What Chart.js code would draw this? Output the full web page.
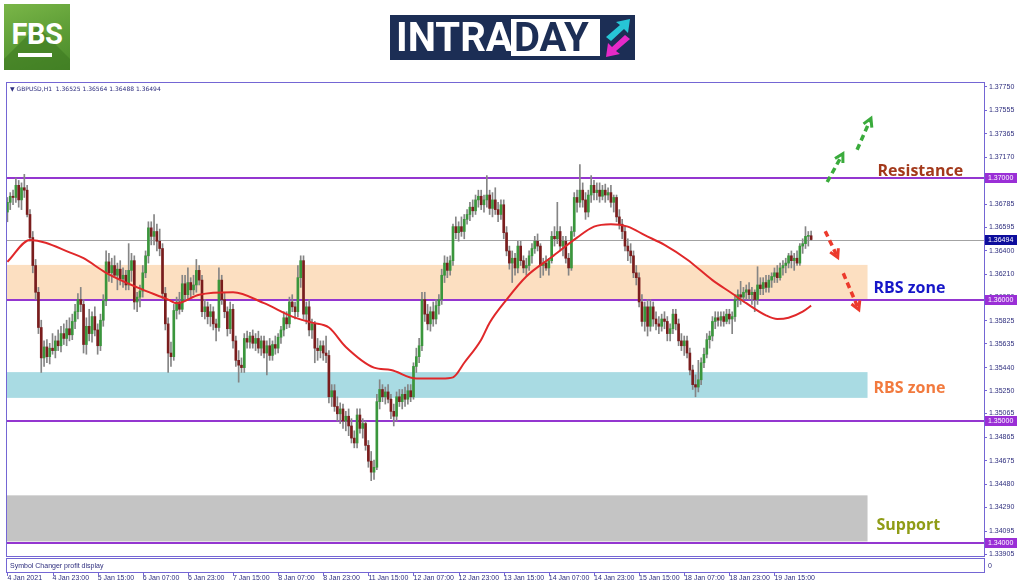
<!DOCTYPE html>
<html>
<head>
<meta charset="utf-8">
<script src="https://cdn.jsdelivr.net/npm/chart.js@4.4.1/dist/chart.umd.min.js"></script>
<style>
html,body{margin:0;padding:0;background:#fff;width:1024px;height:587px;overflow:hidden;}
#wrap{position:relative;width:1024px;height:587px;}
#c{position:absolute;left:0;top:0;}
.fbs{position:absolute;left:4px;top:4px;width:66px;height:66px;background:linear-gradient(160deg,#7ab648 0%,#5a9a34 60%,#4a8a2a 100%);overflow:hidden;}
.fbs .sh{position:absolute;left:33px;top:22px;width:90px;height:90px;background:#3d7a22;transform:rotate(45deg);transform-origin:0 0;opacity:.6;}
.fbs .t{position:absolute;left:0;top:13px;width:66px;text-align:center;color:#fff;font:700 29px "Liberation Sans Narrow","Roboto",sans-serif;letter-spacing:-0.5px;}
.fbs .u{position:absolute;left:14px;top:49px;width:34px;height:4px;background:#fff;}
.intra{position:absolute;left:390px;top:15px;width:245px;height:45px;background:#1c2e55;}
.intra .a{position:absolute;left:6px;top:2px;color:#fff;font:700 40px/41px "Liberation Sans Narrow","Roboto",sans-serif;letter-spacing:0px;}
.intra .d{position:absolute;left:121px;top:4px;width:89px;height:37px;background:#fff;}
.intra .d span{position:absolute;left:3px;top:-2px;color:#1c2e55;font:700 40px/41px "Liberation Sans Narrow","Roboto",sans-serif;}
.intra svg{position:absolute;left:212px;top:2px;}
</style>
</head>
<body>
<div id="wrap">
<canvas id="c" width="1024" height="587"></canvas>
<div class="fbs"><div class="sh"></div><div class="t">FBS</div><div class="u"></div></div>
<div class="intra"><div class="a">INTRA</div><div class="d"><span>DAY</span></div>
<svg width="32" height="42" viewBox="0 0 32 42">
<polygon points="4,20 18,8 14,5 28,2 26,16 22,12 9,24" fill="#27c6d6"/>
<polygon points="28,22 14,34 18,37 4,40 6,26 10,30 23,18" fill="#e52ac8"/>
</svg></div>
</div>
<script>
// ---------- DATA ----------
const symbolName = 'GBPUSD,H1';
const xLabels = ['4 Jan 2021','4 Jan 23:00','5 Jan 15:00','6 Jan 07:00','6 Jan 23:00','7 Jan 15:00','8 Jan 07:00','8 Jan 23:00','11 Jan 15:00','12 Jan 07:00','12 Jan 23:00','13 Jan 15:00','14 Jan 07:00','14 Jan 23:00','15 Jan 15:00','18 Jan 07:00','18 Jan 23:00','19 Jan 15:00'];
const xTickBars = [0,16,32,48,64,80,96,112,128,144,160,176,192,208,224,240,256,272];
const yTicks = [1.37750,1.37555,1.37365,1.37170,1.36980,1.36785,1.36595,1.36400,1.36210,1.36020,1.35825,1.35635,1.35440,1.35250,1.35065,1.34865,1.34675,1.34480,1.34290,1.34095,1.33905];

const opens = [
1.3672,1.3680,1.3685,1.3684,1.3694,1.3682,1.3692,1.3690,1.3670,1.3651,
1.3628,1.3606,1.3577,1.3552,1.3561,1.3553,1.3560,1.3558,1.3566,1.3562,
1.3572,1.3568,1.3576,1.3571,1.3582,1.3590,1.3600,1.3596,1.3563,1.3578,
1.3572,1.3586,1.3575,1.3562,1.3583,1.3599,1.3631,1.3622,1.3628,1.3620,
1.3625,1.3617,1.3620,1.3612,1.3624,1.3632,1.3598,1.3602,1.3607,1.3622,
1.3636,1.3659,1.3652,1.3656,1.3648,1.3642,1.3605,1.3580,1.3556,1.3553,
1.3591,1.3598,1.3592,1.3613,1.3604,1.3614,1.3608,1.3612,1.3624,1.3616,
1.3590,1.3594,1.3586,1.3590,1.3580,1.3577,1.3616,1.3600,1.3590,1.3576,
1.3592,1.3566,1.3550,1.3546,1.3544,1.3568,1.3565,1.3570,1.3564,1.3568,
1.3560,1.3566,1.3556,1.3562,1.3554,1.3563,1.3560,1.3569,1.3575,1.3585,
1.3580,1.3598,1.3594,1.3590,1.3618,1.3632,1.3588,1.3594,1.3575,1.3580,
1.3560,1.3558,1.3562,1.3556,1.3554,1.3520,1.3525,1.3512,1.3506,1.3510,
1.3500,1.3504,1.3496,1.3486,1.3482,1.3505,1.3494,1.3498,1.3480,1.3467,
1.3458,1.3462,1.3516,1.3526,1.3520,1.3524,1.3518,1.3508,1.3504,1.3520,
1.3516,1.3522,1.3518,1.3525,1.3520,1.3545,1.3553,1.3562,1.3600,1.3588,
1.3580,1.3590,1.3584,1.3595,1.3600,1.3620,1.3630,1.3624,1.3632,1.3660,
1.3655,1.3660,1.3656,1.3666,1.3670,1.3676,1.3673,1.3682,1.3685,1.3678,
1.3682,1.3686,1.3675,1.3682,1.3674,1.3670,1.3678,1.3655,1.3640,1.3630,
1.3634,1.3626,1.3644,1.3632,1.3626,1.3628,1.3636,1.3642,1.3648,1.3644,
1.3628,1.3630,1.3626,1.3632,1.3652,1.3650,1.3656,1.3644,1.3648,1.3634,
1.3626,1.3656,1.3684,1.3680,1.3690,1.3682,1.3672,1.3686,1.3694,1.3688,
1.3690,1.3685,1.3690,1.3686,1.3688,1.3680,1.3684,1.3668,1.3662,1.3656,
1.3644,1.3640,1.3636,1.3622,1.3618,1.3598,1.3582,1.3594,1.3578,1.3594,
1.3584,1.3580,1.3578,1.3584,1.3582,1.3572,1.3576,1.3588,1.3580,1.3566,
1.3562,1.3566,1.3556,1.3542,1.3530,1.3528,1.3534,1.3548,1.3555,1.3567,
1.3570,1.3582,1.3585,1.3583,1.3586,1.3582,1.3588,1.3584,1.3586,1.3600,
1.3604,1.3602,1.3606,1.3608,1.3604,1.3606,1.3600,1.3612,1.3609,1.3614,
1.3610,1.3616,1.3619,1.3622,1.3618,1.3626,1.3628,1.3630,1.3636,1.3632,
1.3634,1.3630,1.3644,1.3646,1.3652,1.36525];

const highs = [
1.3684,1.3688,1.3690,1.3700,1.3698,1.3696,1.3703,1.3694,1.3674,1.3656,
1.3633,1.3610,1.3583,1.3566,1.3567,1.3564,1.3572,1.3570,1.3575,1.3578,
1.3580,1.3583,1.3585,1.3588,1.3596,1.3605,1.3610,1.3600,1.3585,1.3592,
1.3590,1.3594,1.3580,1.3588,1.3604,1.3640,1.3638,1.3634,1.3636,1.3630,
1.3632,1.3626,1.3624,1.3646,1.3638,1.3636,1.3606,1.3612,1.3628,1.3640,
1.3664,1.3664,1.3670,1.3662,1.3658,1.3646,1.3610,1.3585,1.3565,1.3596,
1.3602,1.3606,1.3620,1.3620,1.3626,1.3618,1.3620,1.3633,1.3628,1.3620,
1.3600,1.3598,1.3596,1.3594,1.3584,1.3626,1.3620,1.3606,1.3594,1.3598,
1.3596,1.3570,1.3558,1.3552,1.3572,1.3574,1.3573,1.3575,1.3572,1.3574,
1.3570,1.3570,1.3566,1.3568,1.3566,1.3570,1.3572,1.3578,1.3590,1.3590,
1.3602,1.3604,1.3598,1.3628,1.3636,1.3636,1.3598,1.3600,1.3584,1.3582,
1.3568,1.3566,1.3566,1.3570,1.3558,1.3530,1.3530,1.3520,1.3515,1.3514,
1.3508,1.3510,1.3502,1.3492,1.3510,1.3510,1.3502,1.3500,1.3484,1.3475,
1.3468,1.3522,1.3534,1.3530,1.3528,1.3530,1.3522,1.3514,1.3524,1.3526,
1.3526,1.3528,1.3530,1.3530,1.3548,1.3560,1.3568,1.3606,1.3606,1.3596,
1.3594,1.3598,1.3600,1.3604,1.3625,1.3636,1.3635,1.3636,1.3662,1.3668,
1.3664,1.3668,1.3670,1.3674,1.3680,1.3682,1.3686,1.3690,1.3690,1.3686,
1.3702,1.3690,1.3688,1.3692,1.3680,1.3682,1.3682,1.3660,1.3644,1.3640,
1.3638,1.3648,1.3648,1.3636,1.3634,1.3640,1.3646,1.3652,1.3654,1.3646,
1.3634,1.3636,1.3634,1.3656,1.3660,1.3680,1.3660,1.3652,1.3652,1.3638,
1.3660,1.3688,1.3690,1.3711,1.3696,1.3688,1.3690,1.3702,1.3698,1.3696,
1.3696,1.3694,1.3695,1.3692,1.3694,1.3686,1.3686,1.3674,1.3666,1.3660,
1.3650,1.3646,1.3640,1.3628,1.3622,1.3604,1.3598,1.3600,1.3600,1.3598,
1.3590,1.3586,1.3588,1.3590,1.3586,1.3580,1.3592,1.3592,1.3584,1.3572,
1.3570,1.3570,1.3560,1.3546,1.3538,1.3550,1.3552,1.3560,1.3572,1.3574,
1.3586,1.3590,1.3590,1.3590,1.3590,1.3592,1.3592,1.3590,1.3604,1.3608,
1.3615,1.3610,1.3612,1.3614,1.3610,1.3608,1.3627,1.3618,1.3618,1.3620,
1.3620,1.3622,1.3626,1.3628,1.3630,1.3632,1.3634,1.3638,1.3640,1.3638,
1.3640,1.3646,1.3650,1.3660,1.3656,1.36564];

const lows = [
1.3664,1.3674,1.3678,1.3680,1.3676,1.3674,1.3684,1.3668,1.3648,1.3622,
1.3600,1.3572,1.3540,1.3545,1.3548,1.3547,1.3555,1.3552,1.3558,1.3557,
1.3563,1.3562,1.3566,1.3567,1.3576,1.3584,1.3590,1.3556,1.3555,1.3566,
1.3565,1.3570,1.3555,1.3558,1.3578,1.3595,1.3615,1.3614,1.3618,1.3608,
1.3612,1.3610,1.3608,1.3608,1.3615,1.3592,1.3590,1.3594,1.3602,1.3618,
1.3630,1.3645,1.3645,1.3640,1.3636,1.3600,1.3575,1.3540,1.3545,1.3550,
1.3584,1.3588,1.3590,1.3600,1.3600,1.3602,1.3604,1.3606,1.3612,1.3586,
1.3584,1.3580,1.3578,1.3575,1.3566,1.3574,1.3596,1.3585,1.3570,1.3572,
1.3560,1.3545,1.3532,1.3540,1.3540,1.3560,1.3560,1.3560,1.3558,1.3556,
1.3554,1.3552,1.3538,1.3550,1.3550,1.3555,1.3556,1.3564,1.3570,1.3576,
1.3577,1.3590,1.3584,1.3586,1.3610,1.3584,1.3580,1.3570,1.3568,1.3548,
1.3550,1.3552,1.3550,1.3548,1.3515,1.3512,1.3508,1.3500,1.3498,1.3494,
1.3492,1.3488,1.3482,1.3478,1.3478,1.3490,1.3486,1.3476,1.3462,1.3451,
1.3452,1.3460,1.3510,1.3516,1.3514,1.3515,1.3502,1.3496,1.3500,1.3512,
1.3510,1.3512,1.3514,1.3516,1.3518,1.3540,1.3548,1.3558,1.3582,1.3575,
1.3574,1.3578,1.3580,1.3588,1.3596,1.3614,1.3618,1.3620,1.3628,1.3650,
1.3648,1.3652,1.3650,1.3662,1.3665,1.3668,1.3670,1.3676,1.3674,1.3672,
1.3676,1.3670,1.3668,1.3670,1.3664,1.3666,1.3650,1.3636,1.3625,1.3614,
1.3620,1.3622,1.3628,1.3622,1.3620,1.3624,1.3630,1.3638,1.3640,1.3618,
1.3620,1.3624,1.3620,1.3630,1.3644,1.3646,1.3640,1.3636,1.3630,1.3620,
1.3624,1.3652,1.3672,1.3676,1.3676,1.3666,1.3668,1.3680,1.3682,1.3682,
1.3680,1.3682,1.3680,1.3682,1.3676,1.3672,1.3664,1.3658,1.3650,1.3640,
1.3632,1.3630,1.3618,1.3612,1.3594,1.3578,1.3574,1.3570,1.3574,1.3578,
1.3575,1.3572,1.3574,1.3576,1.3566,1.3566,1.3572,1.3575,1.3562,1.3558,
1.3554,1.3552,1.3538,1.3526,1.3520,1.3524,1.3530,1.3544,1.3552,1.3560,
1.3566,1.3576,1.3578,1.3578,1.3578,1.3580,1.3580,1.3572,1.3582,1.3594,
1.3596,1.3598,1.3600,1.3600,1.3596,1.3590,1.3596,1.3604,1.3604,1.3606,
1.3606,1.3610,1.3614,1.3614,1.3616,1.3620,1.3622,1.3626,1.3626,1.3624,
1.3628,1.3628,1.3638,1.3642,1.3644,1.36488];

const closes = [
1.3680,1.3685,1.3684,1.3694,1.3682,1.3692,1.3690,1.3670,1.3651,1.3628,
1.3606,1.3577,1.3552,1.3561,1.3553,1.3560,1.3558,1.3566,1.3562,1.3572,
1.3568,1.3576,1.3571,1.3582,1.3590,1.3600,1.3596,1.3563,1.3578,1.3572,
1.3586,1.3575,1.3562,1.3583,1.3599,1.3631,1.3622,1.3628,1.3620,1.3625,
1.3617,1.3620,1.3612,1.3624,1.3632,1.3598,1.3602,1.3607,1.3622,1.3636,
1.3659,1.3652,1.3656,1.3648,1.3642,1.3605,1.3580,1.3556,1.3553,1.3591,
1.3598,1.3592,1.3613,1.3604,1.3614,1.3608,1.3612,1.3624,1.3616,1.3590,
1.3594,1.3586,1.3590,1.3580,1.3577,1.3616,1.3600,1.3590,1.3576,1.3592,
1.3566,1.3550,1.3546,1.3544,1.3568,1.3565,1.3570,1.3564,1.3568,1.3560,
1.3566,1.3556,1.3562,1.3554,1.3563,1.3560,1.3569,1.3575,1.3585,1.3580,
1.3598,1.3594,1.3590,1.3618,1.3632,1.3588,1.3594,1.3575,1.3580,1.3560,
1.3558,1.3562,1.3556,1.3554,1.3520,1.3525,1.3512,1.3506,1.3510,1.3500,
1.3504,1.3496,1.3486,1.3482,1.3505,1.3494,1.3498,1.3480,1.3467,1.3458,
1.3462,1.3516,1.3526,1.3520,1.3524,1.3518,1.3508,1.3504,1.3520,1.3516,
1.3522,1.3518,1.3525,1.3520,1.3545,1.3553,1.3562,1.3600,1.3588,1.3580,
1.3590,1.3584,1.3595,1.3600,1.3620,1.3630,1.3624,1.3632,1.3660,1.3655,
1.3660,1.3656,1.3666,1.3670,1.3676,1.3673,1.3682,1.3685,1.3678,1.3682,
1.3686,1.3675,1.3682,1.3674,1.3670,1.3678,1.3655,1.3640,1.3630,1.3634,
1.3626,1.3644,1.3632,1.3626,1.3628,1.3636,1.3642,1.3648,1.3644,1.3628,
1.3630,1.3626,1.3632,1.3652,1.3650,1.3656,1.3644,1.3648,1.3634,1.3626,
1.3656,1.3684,1.3680,1.3690,1.3682,1.3672,1.3686,1.3694,1.3688,1.3690,
1.3685,1.3690,1.3686,1.3688,1.3680,1.3684,1.3668,1.3662,1.3656,1.3644,
1.3640,1.3636,1.3622,1.3618,1.3598,1.3582,1.3594,1.3578,1.3594,1.3584,
1.3580,1.3578,1.3584,1.3582,1.3572,1.3576,1.3588,1.3580,1.3566,1.3562,
1.3566,1.3556,1.3542,1.3530,1.3528,1.3534,1.3548,1.3555,1.3567,1.3570,
1.3582,1.3585,1.3583,1.3586,1.3582,1.3588,1.3584,1.3586,1.3600,1.3604,
1.3602,1.3606,1.3608,1.3604,1.3606,1.3600,1.3612,1.3609,1.3614,1.3610,
1.3616,1.3619,1.3622,1.3618,1.3626,1.3628,1.3630,1.3636,1.3632,1.3634,
1.3630,1.3644,1.3646,1.3652,1.36525,1.36494];

// moving average read at sample bars
const maBars = [0,8,23,27,35,46,57,60,68,80,91,101,108,114,120,130,136,145,154,158,162,168,171,177,184,193,202,208,214,220,226,233,241,250,257,262,269,273,277,282,285];
const maVals = [1.3631,1.3649,1.3638,1.3634,1.3622,1.3610,1.3600,1.3597,1.3604,1.3606,1.3597,1.3586,1.3581,1.3577,1.3561,1.3544,1.3542,1.3535,1.3535,1.3536,1.3548,1.3567,1.3581,1.3600,1.3619,1.3635,1.3651,1.3660,1.3662,1.3660,1.3653,1.3645,1.3633,1.3616,1.3605,1.3597,1.3587,1.3584,1.3585,1.3590,1.3595];

// horizontal levels & zones
const levels = [1.37000,1.36000,1.35000,1.34000];
const zoneTop = [1.36285,1.35403,1.34389];
const zoneBottom = [1.36000,1.35191,1.34010];
const zoneLabels = ['RBS zone','RBS zone','Support'];
const resistanceLabel = 'Resistance';

// ---------- STYLE ----------
const frameColor = '#7466d4';
const axisText = '#2e2e7e';
const levelColor = '#9436d0';
const zoneColors = ['rgba(251,217,182,0.85)','rgba(160,215,224,0.9)','rgba(196,196,196,1)'];
const zoneEndBar = 305;
const annFont = '700 16px "Open Sans", "Noto Sans", sans-serif';

const lastIdx = closes.length - 1;
const lastPrice = closes[lastIdx];

const bodyData = opens.map((o, i) => ({x: i, y: [o, closes[i]]}));
const wickData = highs.map((h, i) => ({x: i, y: [lows[i], h]}));
const bodyColors = opens.map((o, i) => closes[i] >= o ? '#3a963c' : '#7a1d1d');

function arrow(ctx, x1, y1, x2, y2, color) {
  ctx.save();
  ctx.strokeStyle = color; ctx.lineWidth = 3.5; ctx.lineCap = 'butt';
  ctx.setLineDash([6, 4]);
  ctx.beginPath(); ctx.moveTo(x1, y1); ctx.lineTo(x2, y2); ctx.stroke();
  ctx.setLineDash([]);
  const ang = Math.atan2(y2 - y1, x2 - x1);
  const L = 8;
  ctx.lineWidth = 3; ctx.lineJoin = 'miter';
  ctx.beginPath();
  ctx.moveTo(x2 - L * Math.cos(ang - 0.6), y2 - L * Math.sin(ang - 0.6));
  ctx.lineTo(x2 + 1.5 * Math.cos(ang), y2 + 1.5 * Math.sin(ang));
  ctx.lineTo(x2 - L * Math.cos(ang + 0.6), y2 - L * Math.sin(ang + 0.6));
  ctx.stroke();
  ctx.restore();
}

function axisBox(ctx, y, text, bg, left) {
  ctx.save();
  ctx.fillStyle = bg;
  ctx.fillRect(left + 1, Math.round(y) - 5, 32, 10);
  ctx.fillStyle = '#ffffff';
  ctx.font = '7px "Liberation Sans", Arial, sans-serif';
  ctx.textAlign = 'left'; ctx.textBaseline = 'middle';
  ctx.fillText(text, left + 4, Math.round(y) + 0.5);
  ctx.restore();
}

const overlay = {
  id: 'overlay',
  beforeDatasetsDraw(chart) {
    const {ctx, chartArea: a, scales: {x, y}} = chart;
    ctx.save();
    const xe = x.getPixelForValue(zoneEndBar);
    zoneTop.forEach((t, i) => {
      const y1 = y.getPixelForValue(t), y2 = y.getPixelForValue(zoneBottom[i]);
      ctx.fillStyle = zoneColors[i];
      ctx.fillRect(a.left, y1, xe - a.left, y2 - y1);
    });
    const yp = Math.round(y.getPixelForValue(lastPrice)) + 0.5;
    ctx.strokeStyle = '#a3a3a3'; ctx.lineWidth = 1;
    ctx.beginPath(); ctx.moveTo(a.left, yp); ctx.lineTo(a.right, yp); ctx.stroke();
    ctx.strokeStyle = levelColor; ctx.lineWidth = 2;
    levels.forEach(l => {
      const yy = Math.round(y.getPixelForValue(l));
      ctx.beginPath(); ctx.moveTo(a.left, yy); ctx.lineTo(a.right, yy); ctx.stroke();
    });
    ctx.restore();
  },
  afterDatasetsDraw(chart) {
    const {ctx, chartArea: a, scales: {x, y}} = chart;
    ctx.save();
    ctx.strokeStyle = frameColor; ctx.lineWidth = 1;
    ctx.strokeRect(a.left + 0.5, a.top + 0.5, a.right - a.left, a.bottom - a.top);
    const sTop = a.bottom + 2, sBot = a.bottom + 16;
    ctx.strokeRect(a.left + 0.5, sTop + 0.5, a.right - a.left, sBot - sTop);
    ctx.fillStyle = axisText;
    ctx.font = '7px "Liberation Sans", Arial, sans-serif';
    ctx.textBaseline = 'middle'; ctx.textAlign = 'left';
    ctx.fillText('Symbol Changer profit display', a.left + 4, (sTop + sBot) / 2 + 1);
    ctx.fillText('0', a.right + 4, (sTop + sBot) / 2 + 1);
    ctx.beginPath();
    xTickBars.forEach(b => {
      const px = Math.round(x.getPixelForValue(b)) + 0.5;
      ctx.moveTo(px, sBot); ctx.lineTo(px, sBot + 4);
    });
    ctx.stroke();
    ctx.fillStyle = axisText;
    ctx.font = '6px "DejaVu Sans", sans-serif';
    ctx.textBaseline = 'middle';
    const hdr = '\u25BC ' + symbolName + '  ' + [opens[lastIdx], highs[lastIdx], lows[lastIdx], closes[lastIdx]].map(v => v.toFixed(5)).join(' ');
    ctx.fillText(hdr, a.left + 4, a.top + 7);
    levels.forEach(l => axisBox(ctx, y.getPixelForValue(l), l.toFixed(5), '#9a2fd6', a.right));
    axisBox(ctx, y.getPixelForValue(lastPrice), lastPrice.toFixed(5), '#0d0d9c', a.right);
    const xe = x.getPixelForValue(zoneEndBar);
    ctx.font = annFont; ctx.textBaseline = 'alphabetic'; ctx.textAlign = 'left';
    ctx.fillStyle = '#a3391b';
    ctx.fillText(resistanceLabel, xe + 10, y.getPixelForValue(levels[0]) - 2);
    ctx.fillStyle = '#1616c8';
    ctx.fillText(zoneLabels[0], xe + 6, y.getPixelForValue(zoneBottom[0]) - 7);
    ctx.fillStyle = '#f27a3e';
    ctx.fillText(zoneLabels[1], xe + 6, y.getPixelForValue(zoneBottom[1]) - 5);
    ctx.fillStyle = '#8f9c16';
    ctx.fillText(zoneLabels[2], xe + 9, y.getPixelForValue(zoneBottom[2]) - 11);
    const P = (b, p) => [x.getPixelForValue(b), y.getPixelForValue(p)];
    const g1a = P(301.3, 1.37233), g1b = P(306.0, 1.37480);
    const g2a = P(290.7, 1.36967), g2b = P(296.0, 1.37190);
    const r1a = P(290.0, 1.36563), r1b = P(294.2, 1.36357);
    const r2a = P(296.4, 1.36216), r2b = P(301.7, 1.35928);
    arrow(ctx, g1a[0], g1a[1], g1b[0], g1b[1], '#3aab3c');
    arrow(ctx, g2a[0], g2a[1], g2b[0], g2b[1], '#3aab3c');
    arrow(ctx, r1a[0], r1a[1], r1b[0], r1b[1], '#ec3a2c');
    arrow(ctx, r2a[0], r2a[1], r2b[0], r2b[1], '#ec3a2c');
    ctx.restore();
  }
};

new Chart(document.getElementById('c'), {
  type: 'bar',
  data: {
    datasets: [
      {type: 'line', label: 'MA', data: maBars.map((b, i) => ({x: b, y: maVals[i]})),
       borderColor: '#e0282a', borderWidth: 2, pointRadius: 0, tension: 0.4,
       cubicInterpolationMode: 'monotone', order: 0},
      {label: 'Body', data: bodyData, backgroundColor: bodyColors, barThickness: 2,
       grouped: false, minBarLength: 1, order: 1},
      {label: 'Wick', data: wickData, backgroundColor: '#858585', barThickness: 1,
       grouped: false, order: 2}
    ]
  },
  options: {
    responsive: false,
    animation: false,
    devicePixelRatio: 1,
    layout: {padding: {left: 6, top: 82, right: 0, bottom: 0}},
    plugins: {legend: {display: false}, tooltip: {enabled: false}},
    scales: {
      x: {
        type: 'linear', min: -0.5, max: 346.3, offset: false,
        grid: {display: false, drawTicks: false},
        border: {display: false},
        afterBuildTicks: s => { s.ticks = xTickBars.map(v => ({value: v})); },
        afterFit: s => { s.height = 31; s.paddingLeft = 0; s.paddingRight = 0; },
        ticks: {
          autoSkip: false, maxRotation: 0, align: 'start', padding: 18,
          color: axisText, font: {size: 7, family: '"Liberation Sans", Arial, sans-serif'},
          callback: v => xLabels[xTickBars.indexOf(v)]
        }
      },
      y: {
        position: 'right', min: 1.3389, max: 1.3779,
        grid: {drawOnChartArea: false, color: frameColor, tickLength: 3},
        border: {display: false},
        afterBuildTicks: s => { s.ticks = yTicks.map(v => ({value: v})); },
        afterFit: s => { s.width = 40; s.paddingTop = 0; s.paddingBottom = 0; },
        ticks: {
          padding: 2, color: axisText, font: {size: 7, family: '"Liberation Sans", Arial, sans-serif'},
          callback: v => v.toFixed(5)
        }
      }
    }
  },
  plugins: [overlay]
});
</script>
</body>
</html>
